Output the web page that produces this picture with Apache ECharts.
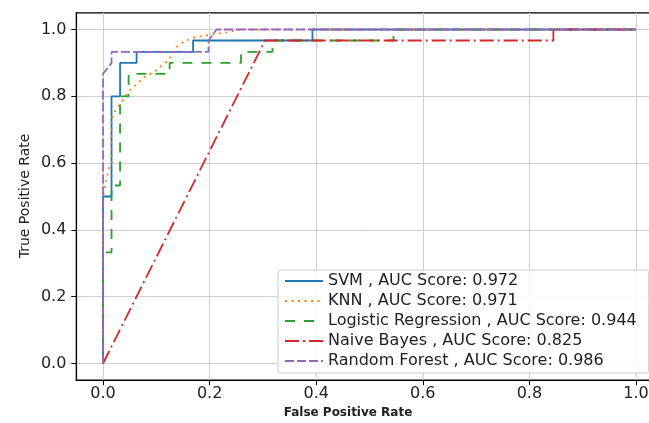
<!DOCTYPE html>
<html><head><meta charset="utf-8">
<script src="https://cdn.jsdelivr.net/npm/echarts@6/dist/echarts.min.js"></script>
<style>html,body{margin:0;padding:0;background:#fff}#c{width:649px;height:423px}</style>
</head><body><div id="c"></div>
<script>
const xTicks = [0, 0.2, 0.4, 0.6, 0.8, 1.0];
const yTicks = [0, 0.2, 0.4, 0.6, 0.8, 1.0];
const seriesNames = [
  'SVM , AUC Score: 0.972',
  'KNN , AUC Score: 0.971',
  'Logistic Regression , AUC Score: 0.944',
  'Naive Bayes , AUC Score: 0.825',
  'Random Forest , AUC Score: 0.986'
];
const svmFpr = [0, 0, 0.016, 0.016, 0.032, 0.032, 0.063, 0.063, 0.169, 0.169, 0.393, 0.393, 1];
const svmTpr = [0, 0.5, 0.5, 0.8, 0.8, 0.9, 0.9, 0.933, 0.933, 0.967, 0.967, 1, 1];
const knnFpr = [0, 0, 0.006, 0.012, 0.016, 0.016, 0.022, 0.035, 0.05, 0.065, 0.08, 0.095, 0.108, 0.122, 0.138, 0.152, 0.173, 0.204, 0.235, 0.257, 1];
const knnTpr = [0, 0.5, 0.55, 0.59, 0.6, 0.733, 0.754, 0.784, 0.818, 0.84, 0.86, 0.872, 0.89, 0.906, 0.948, 0.964, 0.977, 0.985, 0.992, 1.0, 1.0];
const lrFpr = [0, 0, 0.016, 0.016, 0.032, 0.032, 0.048, 0.048, 0.125, 0.125, 0.259, 0.259, 0.318, 0.318, 0.545, 0.545, 1];
const lrTpr = [0, 0.333, 0.333, 0.533, 0.533, 0.8, 0.8, 0.867, 0.867, 0.9, 0.9, 0.933, 0.933, 0.967, 0.967, 1, 1];
const nbFpr = [0, 0.304, 0.845, 0.845, 1];
const nbTpr = [0, 0.967, 0.967, 1, 1];
const rfFpr = [0, 0, 0.016, 0.016, 0.198, 0.198, 0.213, 1];
const rfTpr = [0, 0.867, 0.9, 0.933, 0.933, 0.967, 1, 1];

const colors = ['#1f77b4', '#ff7f0e', '#2ca02c', '#d62728', '#9467bd'];
const dashes = ['solid', [2, 4.5], [10, 9], [14, 4, 2, 4], [9, 3]];
const fprs = [svmFpr, knnFpr, lrFpr, nbFpr, rfFpr];
const tprs = [svmTpr, knnTpr, lrTpr, nbTpr, rfTpr];

const FONT = 'DejaVu Sans';
const chart = echarts.init(document.getElementById('c'), null, {renderer: 'canvas'});
const series = seriesNames.map((name, i) => ({
  name: name,
  type: 'line',
  symbol: 'none',
  showSymbol: false,
  data: fprs[i].map((x, j) => [x, tprs[i][j]]),
  lineStyle: {color: colors[i], width: 1.8, type: dashes[i]},
  itemStyle: {color: colors[i]},
  emphasis: {disabled: true},
  z: 2 + i
}));

chart.setOption({
  animation: false,
  grid: {
    left: 76.35, top: 12.8, width: 586.3, height: 367.4,
    show: true, borderColor: '#000', borderWidth: 1.2, backgroundColor: 'transparent',
    outerBoundsMode: 'none', containLabel: false
  },
  xAxis: {
    type: 'value', min: -0.05, max: 1.05,
    axisLine: {show: true, onZero: false, lineStyle: {color: '#000', width: 1.2}},
    axisTick: {show: true, customValues: xTicks, length: 5, lineStyle: {color: '#000', width: 1}},
    axisLabel: {customValues: xTicks, formatter: v => v.toFixed(1), fontSize: 16, color: '#222', fontFamily: FONT, margin: 6},
    splitLine: {show: true, lineStyle: {color: '#cfcfcf', width: 1}}
  },
  yAxis: {
    type: 'value', min: -0.05, max: 1.05,
    axisLine: {show: true, onZero: false, lineStyle: {color: '#000', width: 1.2}},
    axisTick: {show: true, customValues: yTicks, length: 5, lineStyle: {color: '#000', width: 1}},
    axisLabel: {customValues: yTicks, formatter: v => v.toFixed(1), fontSize: 16, color: '#222', fontFamily: FONT, margin: 10},
    splitLine: {show: true, lineStyle: {color: '#cfcfcf', width: 1}}
  },
  legend: {
    orient: 'vertical', left: 278, top: 270,
    itemWidth: 38, itemHeight: 14, itemGap: 0,
    padding: [1, 12, 2, 6],
    backgroundColor: 'rgba(255,255,255,0.85)', borderColor: '#cccccc', borderWidth: 1, borderRadius: 3,
    selectedMode: false,
    itemStyle: {color: 'rgba(0,0,0,0)', borderColor: 'rgba(0,0,0,0)', borderWidth: 0, opacity: 0},
    textStyle: {fontSize: 16, fontFamily: FONT, color: '#222', lineHeight: 20},
    data: seriesNames
  },
  graphic: [
    {type: 'text', x: 25, y: 196, rotation: Math.PI / 2,
     style: {text: 'True Positive Rate', fontSize: 14, fontFamily: FONT, fill: '#222', align: 'center', verticalAlign: 'middle'}},
    {type: 'text', x: 348, y: 413,
     style: {text: 'False Positive Rate', fontSize: 12, fontWeight: 'bold', fontFamily: FONT, fill: '#222', align: 'center', verticalAlign: 'middle'}}
  ],
  series: series
});
</script></body></html>
